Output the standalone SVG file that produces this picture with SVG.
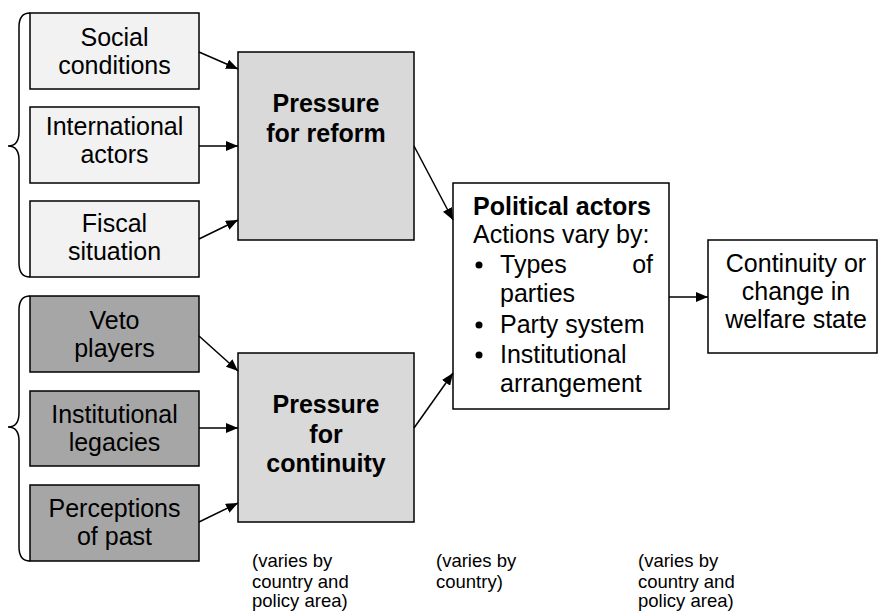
<svg xmlns="http://www.w3.org/2000/svg" width="878" height="612" viewBox="0 0 878 612">
<style>
text{font-family:"Liberation Sans",Arial,sans-serif;font-size:25px;fill:#000}
.b{font-weight:bold}
.c{text-anchor:middle}
.s{font-size:18.5px}
rect{stroke:#000;stroke-width:1.5}
.lt{fill:#f2f2f2}
.dk{fill:#a6a6a6}
.md{fill:#d9d9d9}
.wh{fill:#fff}
.ln{stroke:#000;stroke-width:1.5;fill:none}
</style>
<defs>
<marker id="ah" viewBox="0 0 12 10" refX="12" refY="5" markerWidth="12" markerHeight="10" markerUnits="userSpaceOnUse" orient="auto">
<path d="M0,0 L12,5 L0,10 Z" fill="#000"/>
</marker>
</defs>
<g id="braces">
<path class="ln" d="M30,13 Q19,13 19,27 L19,132 Q19,146 8,146 Q19,146 19,160 L19,263 Q19,277 30,277"/>
<path class="ln" d="M30,296 Q19,296 19,310 L19,413 Q19,427 8,427 Q19,427 19,441 L19,547 Q19,561 30,561"/>
</g>
<g id="social"><rect class="lt" x="30" y="13" width="169" height="76"/><text class="c" x="114.5" y="46">Social</text><text class="c" x="114.5" y="74">conditions</text></g>
<g id="international"><rect class="lt" x="30" y="107" width="169" height="76"/><text class="c" x="114.5" y="135">International</text><text class="c" x="114.5" y="163">actors</text></g>
<g id="fiscal"><rect class="lt" x="30" y="201" width="169" height="76"/><text class="c" x="114.5" y="232">Fiscal</text><text class="c" x="114.5" y="260">situation</text></g>
<g id="veto"><rect class="dk" x="30" y="296" width="169" height="76"/><text class="c" x="114.5" y="329">Veto</text><text class="c" x="114.5" y="357">players</text></g>
<g id="legacies"><rect class="dk" x="30" y="391" width="169" height="75"/><text class="c" x="114.5" y="423">Institutional</text><text class="c" x="114.5" y="451">legacies</text></g>
<g id="perceptions"><rect class="dk" x="30" y="485" width="169" height="76"/><text class="c" x="114.5" y="517">Perceptions</text><text class="c" x="114.5" y="545">of past</text></g>
<g id="reform"><rect class="md" x="238" y="52" width="176" height="188"/><text class="c b" x="326" y="112">Pressure</text><text class="c b" x="326" y="142">for reform</text></g>
<g id="continuity"><rect class="md" x="238" y="353" width="176" height="169"/><text class="c b" x="326" y="413">Pressure</text><text class="c b" x="326" y="443">for</text><text class="c b" x="326" y="472">continuity</text></g>
<g id="political"><rect class="wh" x="453" y="183" width="216" height="226"/>
<text class="b" x="473" y="215">Political actors</text>
<text x="473" y="243">Actions vary by:</text>
<circle cx="479" cy="265" r="3.5"/><text x="500" y="273">Types</text><text x="653" y="273" text-anchor="end">of</text>
<text x="500" y="302">parties</text>
<circle cx="479" cy="325" r="3.5"/><text x="500" y="333">Party system</text>
<circle cx="479" cy="355" r="3.5"/><text x="500" y="363">Institutional</text>
<text x="500" y="392">arrangement</text>
</g>
<g id="outcome"><rect class="wh" x="708" y="240" width="169" height="113"/><text class="c" x="796" y="272">Continuity or</text><text class="c" x="796" y="300">change in</text><text class="c" x="796" y="328">welfare state</text></g>
<g id="notes">
<text class="s" x="252" y="567">(varies by</text><text class="s" x="252" y="588">country and</text><text class="s" x="252" y="607">policy area)</text>
<text class="s" x="436" y="567">(varies by</text><text class="s" x="436" y="588">country)</text>
<text class="s" x="638" y="567">(varies by</text><text class="s" x="638" y="588">country and</text><text class="s" x="638" y="607">policy area)</text>
</g>
<g id="connectors" class="ln" marker-end="url(#ah)">
<line x1="199" y1="52" x2="238" y2="69"/>
<line x1="199" y1="146" x2="238" y2="146"/>
<line x1="199" y1="239" x2="238" y2="220"/>
<line x1="199" y1="336" x2="238" y2="371"/>
<line x1="199" y1="428" x2="238" y2="428"/>
<line x1="199" y1="522" x2="238" y2="503"/>
<line x1="414" y1="146" x2="453" y2="220"/>
<line x1="414" y1="428" x2="453" y2="373"/>
<line x1="669" y1="297" x2="708" y2="297"/>
</g>
</svg>
